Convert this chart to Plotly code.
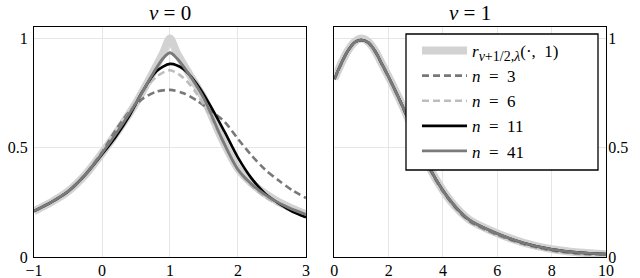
import plotly.graph_objects as go

# ---------------- data ----------------
# nu = 0 panel
x0_target = [-1.0, -0.75, -0.5, -0.25, 0.0, 0.25, 0.5, 0.75, 0.9, 1.0, 1.1, 1.25, 1.5, 1.75, 2.0, 2.25, 2.5, 2.75, 3.0]
r0_target = [0.21, 0.25, 0.30, 0.375, 0.475, 0.585, 0.705, 0.845, 0.935, 1.0, 0.935, 0.855, 0.725, 0.55, 0.405, 0.325, 0.27, 0.228, 0.195]
r0_n41 = [0.21, 0.25, 0.30, 0.375, 0.475, 0.585, 0.705, 0.84, 0.91, 0.935, 0.91, 0.85, 0.725, 0.55, 0.40, 0.32, 0.265, 0.225, 0.195]

x0_approx = [-1.0, -0.75, -0.5, -0.25, 0.0, 0.2, 0.4, 0.6, 0.8, 1.0, 1.2, 1.4, 1.6, 1.8, 2.0, 2.2, 2.4, 2.6, 2.8, 3.0]
r0_n3 = [0.21, 0.25, 0.30, 0.375, 0.48, 0.58, 0.665, 0.725, 0.757, 0.765, 0.75, 0.715, 0.67, 0.62, 0.54, 0.465, 0.40, 0.35, 0.305, 0.27]
r0_n6 = [0.21, 0.25, 0.30, 0.375, 0.475, 0.56, 0.66, 0.755, 0.825, 0.855, 0.82, 0.745, 0.64, 0.515, 0.40, 0.325, 0.275, 0.24, 0.21, 0.188]
r0_n11 = [0.21, 0.25, 0.30, 0.375, 0.47, 0.55, 0.645, 0.76, 0.85, 0.884, 0.86, 0.79, 0.69, 0.575, 0.455, 0.36, 0.29, 0.245, 0.208, 0.182]

# nu = 1 panel
x1 = [0.0, 0.25, 0.5, 0.75, 1.0, 1.25, 1.5, 1.75, 2.0, 2.5, 3.0, 3.5, 4.0, 4.5, 5.0, 6.0, 7.0, 8.0, 9.0, 10.0]
r1_target = [0.815, 0.885, 0.945, 0.985, 1.0, 0.985, 0.945, 0.885, 0.825, 0.695, 0.55, 0.41, 0.305, 0.225, 0.168, 0.108, 0.064, 0.036, 0.021, 0.013]
r1_n3 = [0.812, 0.882, 0.943, 0.982, 0.995, 0.98, 0.94, 0.882, 0.822, 0.69, 0.545, 0.405, 0.30, 0.22, 0.162, 0.102, 0.058, 0.030, 0.015, 0.010]
r1_n6 = [0.814, 0.884, 0.944, 0.983, 0.995, 0.982, 0.942, 0.884, 0.824, 0.693, 0.548, 0.408, 0.303, 0.223, 0.166, 0.106, 0.062, 0.034, 0.019, 0.012]
r1_n11 = [0.815, 0.885, 0.944, 0.983, 0.993, 0.982, 0.943, 0.884, 0.824, 0.694, 0.549, 0.409, 0.304, 0.224, 0.167, 0.107, 0.063, 0.035, 0.020, 0.013]
r1_n41 = [0.815, 0.885, 0.944, 0.983, 0.993, 0.982, 0.943, 0.884, 0.824, 0.694, 0.549, 0.409, 0.304, 0.224, 0.167, 0.107, 0.063, 0.035, 0.020, 0.013]

titles = ["<i>ν</i> = 0", "<i>ν</i> = 1"]
legend_names = [
    "<i>r</i><sub><span style='font-size:14px'><i>ν</i>+1/2,<i>λ</i></span></sub>(·,\u20021)",
    "<i>n</i>\u2002=\u20023",
    "<i>n</i>\u2002=\u20026",
    "<i>n</i>\u2002=\u200211",
    "<i>n</i>\u2002=\u200241",
]
x0_ticks = [-1, 0, 1, 2, 3]
x1_ticks = [0, 2, 4, 6, 8, 10]
y_ticks = [0, 0.5, 1]
y_ticktext = ["0", "0.5", "1"]

# ---------------- styles ----------------
styles = [
    dict(color="#d2d2d2", width=8),
    dict(color="#787878", width=2.6, dash="7px,4px"),
    dict(color="#bdbdbd", width=2.6, dash="7px,4px"),
    dict(color="#000000", width=2.6),
    dict(color="#7a7a7a", width=2.8),
]

fig = go.Figure()

panel0 = [(x0_target, r0_target), (x0_approx, r0_n3), (x0_approx, r0_n6), (x0_approx, r0_n11), (x0_target, r0_n41)]
panel1 = [(x1, r1_target), (x1, r1_n3), (x1, r1_n6), (x1, r1_n11), (x1, r1_n41)]

for i, (xx, yy) in enumerate(panel0):
    fig.add_trace(go.Scatter(x=xx, y=yy, mode="lines", line=dict(shape="spline", smoothing=0.8, **styles[i]),
                             showlegend=False, xaxis="x", yaxis="y", hoverinfo="skip"))
for i, (xx, yy) in enumerate(panel1):
    fig.add_trace(go.Scatter(x=xx, y=yy, mode="lines", line=dict(shape="spline", smoothing=0.8, **styles[i]),
                             name=legend_names[i], legendgroup=f"g{i}", showlegend=True,
                             xaxis="x2", yaxis="y2", hoverinfo="skip"))

FONT = "Liberation Serif"
axis_common = dict(showline=True, mirror=True, linecolor="black", linewidth=1.3,
                   showgrid=True, gridcolor="#e6e6e6", gridwidth=1, zeroline=False, automargin=False,
                   ticks="", tickfont=dict(family=FONT, size=16, color="black"))

W, H = 640, 278
L, R, T, B = 34, 34, 27, 21
pw, ph = W - L - R, H - T - B


def px_x(p):
    return (p - L) / pw


def px_y(p):
    return (H - B - p) / ph


fig.update_layout(
    width=W, height=H,
    margin=dict(l=L, r=R, t=T, b=B),
    paper_bgcolor="white", plot_bgcolor="white",
    font=dict(family=FONT, color="black"),
    xaxis=dict(domain=[0, 0.4755], range=[-1, 3], tickvals=x0_ticks, anchor="y", ticklabelstandoff=-1, **axis_common),
    yaxis=dict(domain=[0, 1], range=[0, 1.053], tickvals=y_ticks, ticktext=y_ticktext, anchor="x",
               ticklabelstandoff=2, **axis_common),
    xaxis2=dict(domain=[0.525, 1], range=[0, 10], tickvals=x1_ticks, anchor="y2", ticklabelstandoff=-1, **axis_common),
    yaxis2=dict(domain=[0, 1], range=[0, 1.053], tickvals=y_ticks, ticktext=y_ticktext, anchor="x2", side="right",
                ticklabelstandoff=-2, **axis_common),
    legend=dict(x=px_x(417), y=px_y(33), xanchor="left", yanchor="top", borderwidth=0,
                bgcolor="rgba(0,0,0,0)", font=dict(family=FONT, size=17, color="black"),
                itemwidth=45, tracegroupgap=0),
    showlegend=True,
)

# legend frame (white box hiding the curves behind it)
fig.add_shape(type="rect", xref="paper", yref="paper",
              x0=px_x(406), x1=px_x(598), y0=px_y(170), y1=px_y(34),
              line=dict(color="black", width=1.3), fillcolor="white", layer="above")

centers = [0.4755 / 2, (0.525 + 1) / 2]
for t, cx in zip(titles, centers):
    fig.add_annotation(text=t, x=cx, y=1.0, xref="paper", yref="paper", xanchor="center", yanchor="bottom",
                       yshift=0, showarrow=False, font=dict(family=FONT, size=21, color="black"))

fig.write_html("out.html", config={"displayModeBar": False},
               post_script="document.body.style.margin='0';document.body.style.overflow='hidden';")
